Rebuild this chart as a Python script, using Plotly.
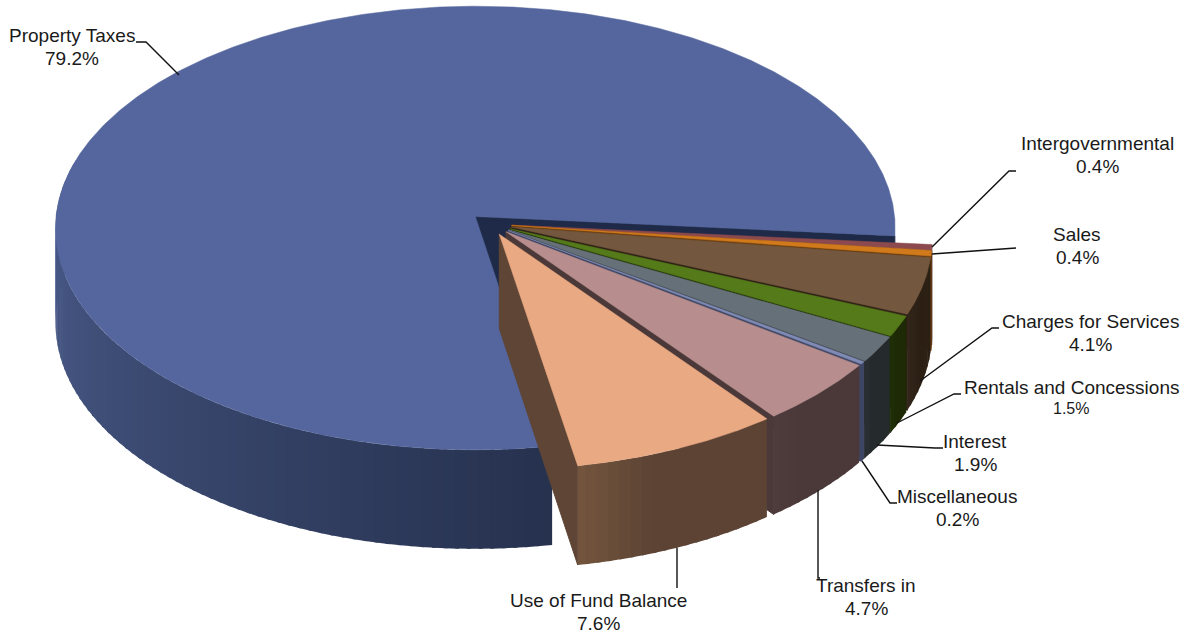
import numpy as np
import plotly.graph_objects as go

# slices, clockwise from the top of the right hand edge
names = ['Property Taxes', 'Intergovernmental', 'Sales', 'Charges for Services',
         'Rentals and Concessions', 'Interest', 'Miscellaneous', 'Transfers in',
         'Use of Fund Balance']
shares = [79.2, 0.4, 0.4, 4.1, 1.5, 1.9, 0.2, 4.7, 7.6]
top_colors = ['#54669D', '#8C4A4F', '#D07A1C', '#73573F', '#547A1A',
              '#667078', '#7F8AB5', '#B78E8D', '#E9A982']
cut_colors = ['#1E2A47', '#4A2729', '#6A3D0E', '#2F2216', '#1F2E06',
              '#272D30', '#3F4663', '#4B3838', '#5F4535']
wall_left = ['#4F6192', '#4A2729', '#6A3D0E', '#33261A', '#223208',
             '#2A3033', '#454C6B', '#4F3C3C', '#75573F']
wall_right = ['#27324F', '#4A2729', '#6A3D0E', '#2C2015', '#1D2A05',
              '#252A2D', '#3F4663', '#4B3838', '#5C4334']

# leader lines, label side first
leaders = [[(136, 42), (146, 42), (179, 75)],
           [(1016, 171), (1009, 171), (932, 247)],
           [(1016, 248), (932, 254)],
           [(999, 328), (992, 328), (920, 381)],
           [(961, 394), (954, 394), (897, 423)],
           [(943, 448), (935, 448), (877, 445)],
           [(897, 503), (890, 503), (862, 461)],
           [(820, 578), (818, 578), (818, 490)],
           [(677, 588), (677, 548)]]
label_pos = [(72, 47), (1097, 155), (1077, 246), (1090, 333), (1071, 398),
             (975, 453), (957, 508), (866, 597), (598, 612)]

# pie geometry in page pixels
CX, CY = 490.8, 224
RX, RY = 420, 222
PERSP = 0.052
DEPTH = 94
EXPLODE = 0.05
START = 5.0


def project(t, off, low=False):
    # t in degrees, clockwise on screen
    u = np.cos(np.radians(t)) + off[0]
    v = np.sin(np.radians(t)) + off[1]
    return to_page(u, v, low)


def to_page(u, v, low=False):
    w = 1 - PERSP * v
    return CX + RX * u / w, CY + (RY * v + (DEPTH if low else 0)) / w


def poly(xs, ys, color, width=1):
    return go.Scatter(x=list(xs), y=list(ys), mode='lines', fill='toself',
                      fillcolor=color, line=dict(color=color, width=width),
                      hoverinfo='skip', showlegend=False)


def mix(c1, c2, f):
    a = [int(c1[i:i + 2], 16) for i in (1, 3, 5)]
    b = [int(c2[i:i + 2], 16) for i in (1, 3, 5)]
    return 'rgb(%d,%d,%d)' % tuple(a[i] + (b[i] - a[i]) * f for i in range(3))


fig = go.Figure()

# angular extent of each slice, property taxes runs the long way round
ends = START + np.cumsum([0] + shares[1:]) * 3.6
spans = [(float(ends[-1]), START + 360)]
spans += [(float(ends[i]), float(ends[i + 1])) for i in range(len(ends) - 1)]

for i, (t0, t1) in enumerate(spans):
    mid = np.radians((t0 + t1) / 2)
    off = (EXPLODE * np.cos(mid), EXPLODE * np.sin(mid))
    ax, ay = to_page(off[0], off[1])
    bx, by = to_page(off[0], off[1], True)

    # cut face at the clockwise end of the slice
    ex, ey = project(t1, off)
    fx, fy = project(t1, off, True)
    fig.add_trace(poly([ax, ex, fx, bx, ax], [ay, ey, fy, by, ay], cut_colors[i]))

    # outer wall as vertical strips, t runs right to left across the front.
    # each strip runs under the next one so no seams show
    w0, w1 = t0, min(t1, 195.0)
    n = max(2, int((w1 - w0) / 1.5))
    edges = np.linspace(w0, w1, n + 1)
    for j in reversed(range(n)):
        a0 = edges[j]
        a1 = min(edges[j + 1] + 0.5, w1)
        x0, y0 = project(a0, off)
        x1, y1 = project(a1, off)
        x2, y2 = project(a1, off, True)
        x3, y3 = project(a0, off, True)
        f = (j + 0.5) / n
        if i > 0:
            # the small slices only lighten near their left edge
            f = max(0, (f - 0.6) / 0.4)
        col = mix(wall_right[i], wall_left[i], f)
        fig.add_trace(poly([x0, x1, x2, x3, x0], [y0, y1, y2, y3, y0], col, 0))

    # top of the slice
    ts = np.linspace(t0, t1, max(2, int(t1 - t0) * 2))
    rim = [project(t, off) for t in ts]
    xs = [ax] + [p[0] for p in rim] + [ax]
    ys = [ay] + [p[1] for p in rim] + [ay]
    fig.add_trace(poly(xs, ys, top_colors[i], 0.5))

for pts in leaders:
    fig.add_trace(go.Scatter(x=[p[0] for p in pts], y=[p[1] for p in pts],
                             mode='lines', line=dict(color='#111111', width=1.4),
                             hoverinfo='skip', showlegend=False))

for i, name in enumerate(names):
    x, y = label_pos[i]
    small = name == 'Rentals and Concessions'
    gap = 10.5 if small else 11.5
    fig.add_annotation(x=x, y=y - gap, text=name, showarrow=False)
    fig.add_annotation(x=x, y=y + gap, text=f'{shares[i]}%', showarrow=False,
                       font=dict(size=16 if small else 19))

fig.update_layout(width=1190, height=633, margin=dict(l=0, r=0, t=0, b=0),
                  paper_bgcolor='white', plot_bgcolor='white',
                  font=dict(family='Liberation Sans, Arial', size=19, color='#1A1A1A'),
                  xaxis=dict(range=[0, 1190], visible=False),
                  yaxis=dict(range=[633, 0], visible=False))

fig.write_html('out.html', config=dict(displayModeBar=False),
               post_script="document.body.style.margin='0';document.documentElement.style.overflow='hidden';")
